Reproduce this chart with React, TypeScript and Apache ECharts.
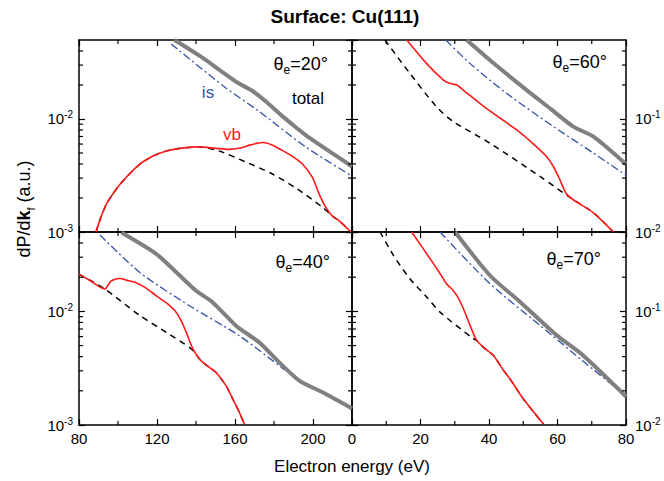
import React, { useEffect, useRef } from 'react';
import * as echarts from 'echarts';

const FONT = '"Liberation Sans", Arial, Helvetica, sans-serif';

// ---- tick values ----
const leftXRange = [80, 220, 40];
const rightXRange = [0, 80, 20];
const leftYRange = [0.001, 0.05];
const rightYRange = [0.01, 0.5];
const leftXMinorTicks = [100, 140, 180];
const rightXMinorTicks = [10, 30, 50, 70];
const leftYMinorTicks = [0.002, 0.003, 0.004, 0.005, 0.006, 0.007, 0.008, 0.009, 0.02, 0.03, 0.04];
const rightYMinorTicks = [0.02, 0.03, 0.04, 0.05, 0.06, 0.07, 0.08, 0.09, 0.2, 0.3, 0.4];

// ---- panel labels ----
const panelAngles = ['20', '60', '40', '70'];

// ---- theta_e = 20 deg (top left) ----
const tlTotal = [[129, 0.05], [143.5, 0.0347], [152, 0.0272], [161.4, 0.0209], [169, 0.0177], [176, 0.0142], [184.3, 0.0106], [191, 0.0085], [198, 0.00684], [209, 0.0051], [220, 0.0038]];
const tlIs = [[127.3, 0.046], [155, 0.019], [172, 0.0118], [196, 0.0057], [220, 0.00312]];
const tlVb = [[88.7, 0.001], [91, 0.00132], [94.1, 0.00177], [98, 0.00225], [102.6, 0.00284], [111.2, 0.00398], [118, 0.0047], [124.8, 0.00522], [132, 0.0055], [141.8, 0.00566], [150, 0.0055], [157, 0.00538], [162, 0.0055], [168, 0.0059], [174, 0.0062], [179, 0.0059], [184, 0.0053], [190, 0.0046], [194.6, 0.004], [199.7, 0.00304], [203, 0.0022], [206.5, 0.00166], [210, 0.00138], [213.3, 0.00126], [216.5, 0.00112], [219.5, 0.001]];
const tlBulk = [[88.7, 0.001], [91, 0.00132], [94.1, 0.00177], [98, 0.00225], [102.6, 0.00284], [111.2, 0.00398], [118, 0.0047], [124.8, 0.00522], [132, 0.0055], [141.8, 0.00566], [152, 0.0052], [165, 0.0042], [179.2, 0.00326], [192, 0.0024], [204.8, 0.00166], [210, 0.00138], [213.3, 0.00126], [216.5, 0.00112], [219.5, 0.001]];

// ---- theta_e = 60 deg (top right) ----
const trTotal = [[33.5, 0.5], [40.3, 0.331], [51, 0.18], [58, 0.123], [64.6, 0.0857], [70.5, 0.0698], [80, 0.0398]];
const trIs = [[27.4, 0.5], [34.5, 0.309], [45.2, 0.168], [58.8, 0.0857], [70.5, 0.0499], [80, 0.0318]];
const trVb = [[16, 0.5], [21.8, 0.309], [26.7, 0.221], [28.5, 0.207], [30.6, 0.2], [33, 0.175], [37.4, 0.137], [42, 0.108], [48.1, 0.08], [53, 0.06], [56.8, 0.0466], [58.8, 0.038], [60.7, 0.029], [62.5, 0.022], [64.6, 0.0193], [70.5, 0.0148], [76.3, 0.01]];
const trBulk = [[9.6, 0.5], [16.9, 0.253], [24.7, 0.128], [29.6, 0.0947], [40.3, 0.061], [54.9, 0.031], [64.6, 0.0193], [70.5, 0.0148], [74.4, 0.0115], [76.3, 0.01]];

// ---- theta_e = 40 deg (bottom left) ----
const blTotal = [[101.8, 0.0495], [119.7, 0.032], [130, 0.022], [140.1, 0.0152], [148.6, 0.012], [160.5, 0.00748], [172.4, 0.00534], [182.7, 0.00356], [192.9, 0.00246], [204.8, 0.00194], [220, 0.0014]];
const blIs = [[90.7, 0.0471], [111.2, 0.022], [136.7, 0.0112], [162.2, 0.00611], [185.5, 0.00305]];
const blVb = [[80, 0.0213], [86, 0.0185], [93.3, 0.0157], [95, 0.0172], [96.7, 0.0186], [100.9, 0.0195], [105, 0.0187], [109.5, 0.0178], [114, 0.0162], [119.7, 0.0137], [125, 0.0118], [129.9, 0.0098], [132.5, 0.0082], [135, 0.00653], [138.4, 0.00467], [141.8, 0.00381], [143.5, 0.00356], [147, 0.0032], [150.3, 0.0029], [155.4, 0.00222], [158.8, 0.0017], [162, 0.00132], [164.8, 0.00102]];
const blBulk = [[80, 0.0213], [93.3, 0.0157], [111.2, 0.0092], [125, 0.0065], [137.6, 0.00467], [141.8, 0.00381], [143.5, 0.00356], [147, 0.0032], [150.3, 0.0029], [155.4, 0.00222], [158.8, 0.0017], [162, 0.00132], [164.8, 0.00102]];

// ---- theta_e = 70 deg (bottom right) ----
const brTotal = [[30.1, 0.5], [40.3, 0.207], [49.1, 0.121], [59.8, 0.0615], [67.5, 0.0409], [80, 0.0178]];
const brIs = [[25.7, 0.5], [40.3, 0.175], [54.9, 0.0753], [66.6, 0.0383], [80, 0.018]];
const brVb = [[17.4, 0.5], [22.8, 0.291], [25.5, 0.22], [27.6, 0.175], [29.1, 0.158], [30.8, 0.135], [32.5, 0.106], [34.5, 0.075], [36.4, 0.0555], [38.5, 0.048], [41.3, 0.0409], [44, 0.031], [46.1, 0.0255], [50, 0.017], [55.9, 0.0102]];
const brBulk = [[8.2, 0.5], [12.1, 0.311], [16.9, 0.194], [21.8, 0.134], [25.7, 0.0986], [35.4, 0.0575], [36.4, 0.0555], [38.5, 0.048], [41.3, 0.0409], [44, 0.031], [46.1, 0.0255], [50, 0.017], [55.9, 0.0102]];

const GRIDS = [
  { left: 79, top: 40, width: 273, height: 192 },
  { left: 352, top: 40, width: 274, height: 192 },
  { left: 79, top: 232, width: 273, height: 193 },
  { left: 352, top: 232, width: 274, height: 193 },
];

const LABEL_POS = [
  { x: 328, y: 60 },
  { x: 607, y: 58 },
  { x: 330, y: 258 },
  { x: 601, y: 255 },
];

const panels = [
  { xr: leftXRange, yr: leftYRange, xm: leftXMinorTicks, ym: leftYMinorTicks, bottom: false, leftCol: true, d: [tlBulk, tlIs, tlTotal, tlVb] },
  { xr: rightXRange, yr: rightYRange, xm: rightXMinorTicks, ym: rightYMinorTicks, bottom: false, leftCol: false, d: [trBulk, trIs, trTotal, trVb] },
  { xr: leftXRange, yr: leftYRange, xm: leftXMinorTicks, ym: leftYMinorTicks, bottom: true, leftCol: true, d: [blBulk, blIs, blTotal, blVb] },
  { xr: rightXRange, yr: rightYRange, xm: rightXMinorTicks, ym: rightYMinorTicks, bottom: true, leftCol: false, d: [brBulk, brIs, brTotal, brVb] },
];

const SERIES_STYLES = [
  { color: '#000000', width: 1.5, type: [6, 5] as any },
  { color: '#3352a6', width: 1.3, type: [8, 3, 2, 3] as any },
  { color: '#808080', width: 4, type: 'solid' as any },
  { color: '#ff1a1a', width: 1.6, type: 'solid' as any },
];

const axisLine = { show: true, onZero: false, lineStyle: { color: '#000', width: 1.5 } };
const majorTick = { show: true, inside: true, length: 6, lineStyle: { color: '#000', width: 1.2 } };

const yRich = {
  m: { fontSize: 15, fontFamily: FONT, color: '#000', lineHeight: 18 },
  s: { fontSize: 10, fontFamily: FONT, color: '#000', lineHeight: 9, verticalAlign: 'top' },
};

function yFormatter(v: number) {
  const e = Math.round(Math.log10(v));
  return `{m|10}{s|${e}}`;
}

function minorTicks(xm: number[], ym: number[], xr: number[], yr: number[]) {
  return (_params: any, api: any) => {
    const bl = api.coord([xr[0], yr[0]]);
    const tr = api.coord([xr[1], yr[1]]);
    const L = 4;
    const style = { stroke: '#000', lineWidth: 1.2 };
    const children: any[] = [];
    xm.forEach((v) => {
      const p = api.coord([v, yr[0]]);
      children.push({ type: 'line', shape: { x1: p[0], y1: bl[1], x2: p[0], y2: bl[1] - L }, style });
      children.push({ type: 'line', shape: { x1: p[0], y1: tr[1], x2: p[0], y2: tr[1] + L }, style });
    });
    ym.forEach((v) => {
      const p = api.coord([xr[0], v]);
      children.push({ type: 'line', shape: { x1: bl[0], y1: p[1], x2: bl[0] + L, y2: p[1] }, style });
      children.push({ type: 'line', shape: { x1: tr[0], y1: p[1], x2: tr[0] - L, y2: p[1] }, style });
    });
    return { type: 'group', children };
  };
}

export default function App() {
  const ref = useRef<HTMLDivElement>(null);
  useEffect(() => {
    const chart = echarts.init(ref.current!, null, { renderer: 'svg' });
    const xAxis: any[] = [];
    const yAxis: any[] = [];
    const series: any[] = [];
    panels.forEach((p, i) => {
      const xBase = {
        type: 'value', gridIndex: i, min: p.xr[0], max: p.xr[1], interval: p.xr[2],
        axisLine, axisTick: majorTick, splitLine: { show: false },
      };
      xAxis.push({
        ...xBase, position: 'bottom',
        axisLabel: { show: p.bottom, showMaxLabel: !p.leftCol, margin: 6, fontSize: 15, fontFamily: FONT, color: '#000' },
      });
      xAxis.push({ ...xBase, position: 'top', axisLabel: { show: false } });
      const yBase = {
        type: 'log', logBase: 10, gridIndex: i, min: p.yr[0], max: p.yr[1],
        axisLine, axisTick: majorTick, splitLine: { show: false },
      };
      yAxis.push({
        ...yBase, position: 'left',
        axisLabel: { show: p.leftCol, showMaxLabel: false, showMinLabel: true, margin: 6, formatter: yFormatter, rich: yRich },
      });
      yAxis.push({
        ...yBase, position: 'right',
        axisLabel: { show: !p.leftCol, showMaxLabel: false, showMinLabel: true, margin: 9, formatter: yFormatter, rich: yRich },
      });
      p.d.forEach((data, k) => {
        const st = SERIES_STYLES[k];
        series.push({
          type: 'line', xAxisIndex: 2 * i, yAxisIndex: 2 * i, data, showSymbol: false, symbol: 'none',
          smooth: 0.25, clip: true, z: 2 + k,
          lineStyle: { color: st.color, width: st.width, type: st.type },
        });
      });
      series.push({
        type: 'custom', xAxisIndex: 2 * i, yAxisIndex: 2 * i, data: [[p.xr[0], p.yr[0]]],
        renderItem: minorTicks(p.xm, p.ym, p.xr, p.yr), z: 10, silent: true,
      });
    });

    const thetaRich = {
      t: { fontSize: 18, fontFamily: FONT, color: '#000', lineHeight: 24 },
      s: { fontSize: 12, fontFamily: FONT, color: '#000', lineHeight: 12, verticalAlign: 'bottom' },
    };
    const graphic: any[] = [
      {
        type: 'text', x: 345, y: 16,
        style: { text: 'Surface: Cu(111)', fontSize: 19, fontWeight: 'bold', fontFamily: FONT, fill: '#000', align: 'center', verticalAlign: 'middle' },
      },
      {
        type: 'text', x: 352, y: 466,
        style: { text: 'Electron energy (eV)', fontSize: 17, fontFamily: FONT, fill: '#000', align: 'center', verticalAlign: 'middle' },
      },
      {
        type: 'text', x: 24, y: 209, rotation: Math.PI / 2,
        style: {
          text: '{n|dP/d}{k|k}{f|f}{n| (a.u.)}', align: 'center', verticalAlign: 'middle',
          rich: {
            n: { fontSize: 18, fontFamily: FONT, fill: '#000', lineHeight: 24 },
            k: { fontSize: 18, fontFamily: FONT, fontWeight: 'bold', fill: '#000', lineHeight: 24 },
            f: { fontSize: 11, fontFamily: FONT, fill: '#000', lineHeight: 11, verticalAlign: 'bottom' },
          },
        },
      },
      { type: 'text', x: 208, y: 92, style: { text: 'is', fontSize: 17, fontFamily: FONT, fill: '#3352a6', align: 'center', verticalAlign: 'middle' } },
      { type: 'text', x: 308, y: 98, style: { text: 'total', fontSize: 17, fontFamily: FONT, fill: '#000', align: 'center', verticalAlign: 'middle' } },
      { type: 'text', x: 232, y: 134, style: { text: 'vb', fontSize: 17, fontFamily: FONT, fill: '#ff1a1a', align: 'center', verticalAlign: 'middle' } },
    ];
    panelAngles.forEach((a, i) => {
      graphic.push({
        type: 'text', x: LABEL_POS[i].x, y: LABEL_POS[i].y + 4,
        style: { text: `{t|θ}{s|e}{t|=${a}°}`, align: 'right', verticalAlign: 'middle', rich: thetaRich },
      });
    });

    chart.setOption({
      animation: false,
      backgroundColor: '#ffffff',
      grid: GRIDS.map((g) => ({ ...g, containLabel: false })),
      xAxis, yAxis, series, graphic,
    });
    return () => chart.dispose();
  }, []);
  return <div ref={ref} style={{ position: 'fixed', left: 0, top: 0, width: 664, height: 481 }} />;
}
